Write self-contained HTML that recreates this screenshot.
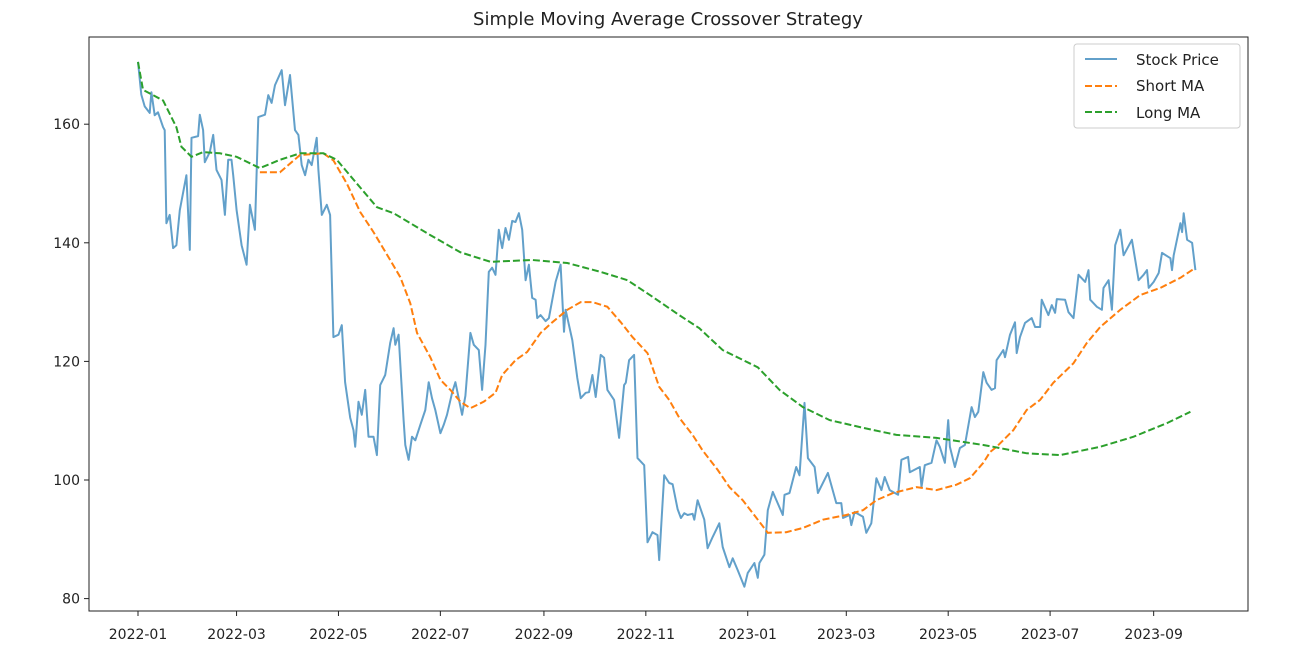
<!DOCTYPE html>
<html><head><meta charset="utf-8"><style>
body{margin:0;background:#fff;width:1290px;height:665px;overflow:hidden;font-family:"Liberation Sans","DejaVu Sans",sans-serif}
svg text{font-family:"DejaVu Sans","Liberation Sans",sans-serif}
</style></head><body>
<svg id="chart" width="1290" height="665" xmlns="http://www.w3.org/2000/svg">
<rect width="1290" height="665" fill="#fff"/>
<text x="668" y="25" text-anchor="middle" font-size="18" fill="#222">Simple Moving Average Crossover Strategy</text>
<g id="marks"></g>
<rect x="89" y="37" width="1159" height="574" fill="none" stroke="#222" stroke-width="1"/>
<g id="axes"></g>
<g>
<rect x="1074" y="44" width="166" height="84" rx="3" fill="#fff" fill-opacity="0.85" stroke="#ccc"/>
<line x1="1085" y1="59" x2="1117" y2="59" stroke="#1f77b4" stroke-opacity="0.7" stroke-width="2"/>
<text x="1136" y="65" font-size="15" fill="#222">Stock Price</text>
<line x1="1085" y1="86" x2="1117" y2="86" stroke="#ff7f0e" stroke-width="2" stroke-dasharray="7,3"/>
<text x="1136" y="91" font-size="15" fill="#222">Short MA</text>
<line x1="1085" y1="112" x2="1117" y2="112" stroke="#2ca02c" stroke-width="2" stroke-dasharray="7,3"/>
<text x="1136" y="118" font-size="15" fill="#222">Long MA</text>
</g>
</svg>
<script>
const priceDays=[0,2,4,7,8,10,12,15,16,17,19,21,23,25,29,31,32,36,37,39,40,43,45,47,50,52,54,56,57,59,62,65,67,70,72,76,78,80,82,86,88,91,94,96,98,100,102,104,107,108,110,113,115,117,120,122,124,127,129,130,132,134,136,138,141,143,145,148,151,153,154,156,159,160,162,164,166,169,172,174,176,178,181,183,185,188,190,194,195,196,199,201,204,206,208,210,212,214,216,217,218,220,222,224,226,228,230,232,234,236,238,239,241,244,246,250,253,255,256,260,263,265,268,270,272,274,277,279,281,285,288,291,292,294,297,299,303,305,308,311,312,315,318,320,323,325,327,329,332,333,335,339,341,344,348,350,354,356,359,363,365,369,371,372,375,377,380,386,387,390,394,396,399,401,405,407,413,418,421,422,426,427,429,434,436,439,442,445,447,450,455,457,461,462,468,469,471,475,478,480,483,485,486,489,492,495,499,501,503,506,508,511,513,514,518,519,522,525,526,528,531,535,537,540,541,545,547,549,550,555,557,560,563,567,569,570,574,577,578,581,583,585,588,590,595,599,602,604,605,608,611,613,618,619,620,624,625,626,628,631,633];
const priceValues=[170.5,165,163,161.9,165.4,161.5,162,159.5,159,143.3,144.7,139.1,139.6,145.5,151.4,138.8,157.7,158,161.6,159,153.6,155.3,158.2,152.3,150.6,144.7,154,154,151.4,145.5,139.6,136.3,146.4,142.2,161.2,161.6,164.9,163.6,166.6,169.1,163.2,168.3,159,158.2,153.1,151.4,154,153.1,157.7,152.3,144.7,146.4,144.7,124.1,124.5,126.1,116.5,110.5,108.4,105.6,113.2,111,115.2,107.3,107.3,104.2,116,117.7,123.1,125.6,122.8,124.5,110.1,105.9,103.4,107.3,106.7,109.3,111.8,116.5,113.8,111.8,107.9,109.3,111,114.7,116.5,111,112.6,114.2,124.8,122.8,121.9,115.2,122.8,135.1,135.8,134.6,142.2,140.5,139.1,142.5,140.5,143.7,143.5,145,142.2,133.7,136.3,130.7,130.4,127.3,127.8,126.8,127.3,133.4,136.3,125,128.7,123.6,117.2,113.8,114.7,114.8,117.7,114,121.1,120.6,115.2,113.5,107.1,116,116.4,120.2,121.1,103.7,102.5,89.5,91.2,90.7,86.5,100.8,99.5,99.3,95.1,93.6,94.4,94.1,94.3,93.3,96.6,93.3,88.5,90.4,92.7,88.7,85.3,86.8,84.8,82,84.3,86,83.5,86,87.4,94.9,98,94.1,97.5,97.8,102.2,100.8,113,103.7,102.2,97.8,101.2,96.1,96.1,93.6,94.1,92.4,94.6,93.8,91.1,92.7,100.3,98.3,100.5,98.3,97.5,103.4,103.9,101.3,102.2,98.8,102.5,102.9,106.7,105.6,102.9,110.1,105.6,102.2,105.4,105.9,112.3,110.6,111.5,118.2,116.4,115.2,115.5,120.2,121.9,120.7,124.5,126.6,121.4,124.1,126.5,127.3,125.8,125.8,130.4,127.8,129.5,128.2,130.5,130.4,128.3,127.3,134.6,133.4,135.4,130.4,129.2,128.7,132.4,133.7,128.7,139.6,142.2,137.9,140.5,133.7,134.6,135.4,132.4,133.4,134.9,138.3,137.4,135.4,137.9,143.3,141.8,145,140.5,140,135.4];
const shortDays=[73,85,97,111,117,125,133,141,151,157,163,167,175,181,187,193,199,207,214,218,226,233,241,248,257,265,272,281,289,296,305,312,318,324,332,338,347,354,362,371,377,388,398,410,424,434,442,452,466,478,490,498,506,510,514,524,532,540,548,560,568,576,588,600,612,624,632];
const shortValues=[151.9,151.9,154.8,155.1,153.9,150,145.2,141.8,137.1,134.2,129.8,124.8,120.7,116.9,115.2,113.2,112.1,113.2,114.7,117.7,120.2,121.6,124.8,126.6,128.7,130,130,129.2,126.6,124.1,121.4,115.7,113.5,110.5,107.6,105,101.7,98.8,96.6,93.3,91.1,91.2,91.9,93.3,94.1,94.9,96.6,97.8,98.8,98.3,99.2,100.3,102.9,104.7,105.6,108.4,111.8,113.5,116.4,119.7,123.1,125.8,128.7,131.2,132.4,134.1,135.6];
const longDays=[0,3,15,23,26,32,39,49,59,73,85,97,111,119,131,143,153,163,175,193,211,236,257,277,293,308,324,336,350,371,384,398,414,434,454,478,506,512,532,552,576,596,616,630];
const longValues=[170.5,165.8,164,159.5,156.2,154.5,155.3,155.1,154.5,152.6,154,155.1,155.1,154,150,146,145,143.3,141.3,138.4,136.8,137.1,136.6,135.1,133.7,130.9,127.8,125.6,121.9,119,115.2,112.3,110.1,108.8,107.6,107.1,105.9,105.6,104.5,104.2,105.6,107.3,109.6,111.5];
const yTicks=[80,100,120,140,160];
const xTickDays=[0,59,120,181,243,304,365,424,485,546,608];
const xTickLabels=["2022-01","2022-03","2022-05","2022-07","2022-09","2022-11","2023-01","2023-03","2023-05","2023-07","2023-09"];

const NS="http://www.w3.org/2000/svg";
const xs=d=>138+d*1.6705;
const ys=v=>480-(v-100)*5.93;
const marks=document.getElementById('marks');
const axes=document.getElementById('axes');
function mk(tag,attrs,parent){const e=document.createElementNS(NS,tag);for(const k in attrs)e.setAttribute(k,attrs[k]);parent.appendChild(e);return e;}
function path(days,vals){return days.map((d,i)=>(i?'L':'M')+xs(d).toFixed(1)+' '+ys(vals[i]).toFixed(1)).join(' ');}

const p1=mk('path',{d:path(priceDays,priceValues),fill:'none',stroke:'#1f77b4','stroke-opacity':0.7,'stroke-width':2,'stroke-linejoin':'round'},marks);


const p2=mk('path',{d:path(shortDays,shortValues),fill:'none',stroke:'#ff7f0e','stroke-width':2,'stroke-dasharray':'7,3'},marks);


const p3=mk('path',{d:path(longDays,longValues),fill:'none',stroke:'#2ca02c','stroke-width':2,'stroke-dasharray':'7,3'},marks);



yTicks.forEach(v=>{
  const y=ys(v);
  const t=mk('line',{x1:84,x2:89,y1:y,y2:y,stroke:'#222'},axes);
  
  
  const l=mk('text',{x:80,y:y+5,'text-anchor':'end','font-size':14,fill:'#222'},axes);
  l.textContent=v;
  
  
});
xTickDays.forEach((d,i)=>{
  const x=xs(d);
  const t=mk('line',{x1:x,x2:x,y1:611,y2:616,stroke:'#222'},axes);
  
  
  const l=mk('text',{x:x,y:639,'text-anchor':'middle','font-size':14,fill:'#222'},axes);
  l.textContent=xTickLabels[i];
  
  
});
</script>
</body></html>
